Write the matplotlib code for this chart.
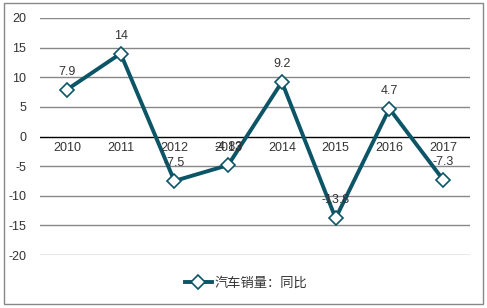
import matplotlib.pyplot as plt
from matplotlib.patches import Rectangle
from matplotlib.lines import Line2D

plt.rcParams['font.family'] = ['Liberation Sans', 'Noto Sans CJK SC', 'DejaVu Sans']

# data
years = ['2010', '2011', '2012', '2013', '2014', '2015', '2016', '2017']
yoy = [7.9, 14, -7.5, -4.83, 9.2, -13.8, 4.7, -7.3]
labels = ['7.9', '14', '-7.5', '-4.83', '9.2', '-13.8', '4.7', '-7.3']
series_name = '汽车销量：同比'

line_color = '#0B5566'
text_color = '#333333'
W, H = 487, 308

fig = plt.figure(figsize=(W / 100, H / 100), dpi=100)
ax = fig.add_axes([40 / W, 53 / H, 430 / W, 237 / H])
ax.set_xlim(-0.5, len(years) - 0.5)
ax.set_ylim(-20, 20)

for s in ax.spines.values():
    s.set_visible(False)

yt = [-20, -15, -10, -5, 0, 5, 10, 15, 20]
ax.set_yticks(yt)
ax.set_yticklabels([str(v) for v in yt], fontsize=9, color=text_color)
ax.tick_params(axis='y', length=0, pad=10)
ax.set_xticks([])
for v in yt:
    ax.axhline(v, color='black' if v == 0 else '#888888', lw=1, zorder=1)

x = list(range(len(years)))
ax.plot(x, yoy, color=line_color, lw=2.8, marker='D', markersize=7,
        markerfacecolor='white', markeredgecolor=line_color, markeredgewidth=1.2,
        zorder=3, clip_on=False)

for i, yr in enumerate(years):
    ax.annotate(yr, (i, 0), xytext=(0, -4), textcoords='offset points',
                ha='center', va='top', fontsize=9, color=text_color, zorder=4)

for i, (v, lab) in enumerate(zip(yoy, labels)):
    ax.annotate(lab, (i, v), xytext=(0, 8.5), textcoords='offset points',
                ha='center', va='bottom', fontsize=9, color=text_color, zorder=4)

# legend
h = Line2D([], [], color=line_color, lw=2.8, marker='D', markersize=7,
           markerfacecolor='white', markeredgecolor=line_color, markeredgewidth=1.2)
fig.legend([h], [series_name], loc='center', bbox_to_anchor=(246 / W, 1 - 283 / H),
           frameon=False, fontsize=9.5, handlelength=2.0, handletextpad=0.2,
           labelcolor=text_color)

# outer border
fig.patches.append(Rectangle((4 / W, 4 / H), 479 / W, 301 / H, transform=fig.transFigure,
                             fill=False, edgecolor='#888888', lw=1))

fig.savefig('out.png', dpi=100)
